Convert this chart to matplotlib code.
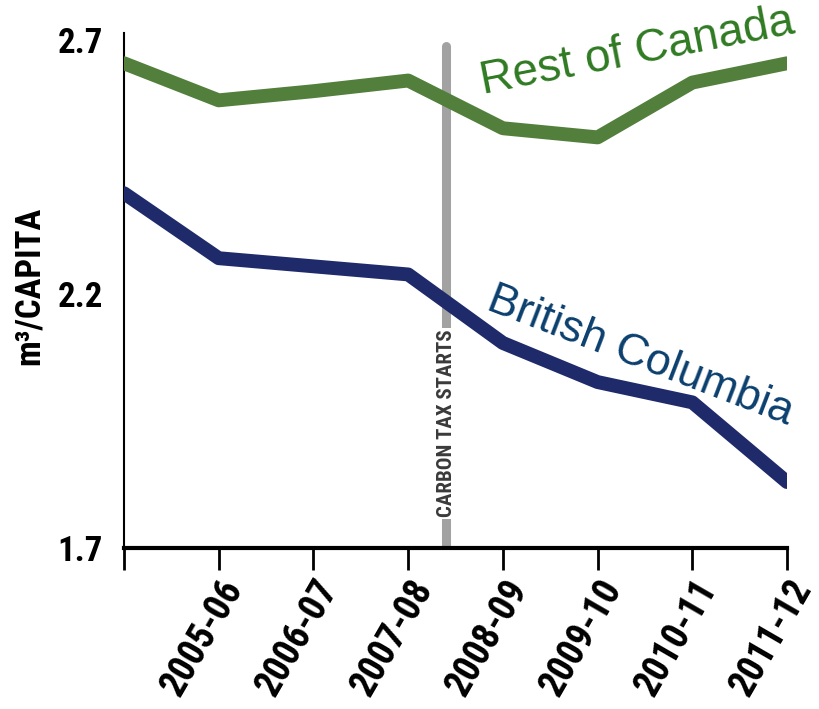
import matplotlib.pyplot as plt
from matplotlib import font_manager

# data
years = ["2004-05", "2005-06", "2006-07", "2007-08", "2008-09", "2009-10", "2010-11", "2011-12"]
rest_of_canada = [2.655, 2.582, 2.600, 2.621, 2.527, 2.509, 2.617, 2.655]
british_columbia = [2.399, 2.271, 2.255, 2.239, 2.104, 2.027, 1.987, 1.830]
tax_start = 3.4

# pick a condensed face if one is installed
names = {f.name for f in font_manager.fontManager.ttflist}
narrow = "DejaVu Sans"
scale = 0.8
for cand in ["Roboto Condensed", "Noto Sans Condensed", "Open Sans Condensed",
             "DejaVu Sans Condensed", "Liberation Sans Narrow"]:
    if cand in names:
        narrow = cand
        scale = 1.0
        break

fig = plt.figure(figsize=(8.19, 7.09), dpi=100)
ax = fig.add_axes([0.1514, 0.227, 0.8096, 0.726])

x = list(range(len(years)))

# carbon tax line
ax.plot([tax_start, tax_start], [1.7, 2.69], color="#a2a2a2", lw=6.5, solid_capstyle="round", zorder=1)
ax.text(tax_start, 1.945, "CARBON TAX STARTS", rotation=90, ha="center", va="center",
        fontsize=15 * scale, family=narrow, fontweight="bold", color="#3a3a3a",
        bbox=dict(facecolor="white", edgecolor="none", pad=1), zorder=2)

ax.plot(x, rest_of_canada, color="#527f3c", lw=10, solid_capstyle="round", solid_joinstyle="round", zorder=3)
ax.plot(x, british_columbia, color="#1e2a6a", lw=10, solid_capstyle="round", solid_joinstyle="round", zorder=3)

ax.text(5.42, 2.678, "Rest of Canada", rotation=11, ha="center", va="center",
        fontsize=33, family="Liberation Sans", color="#2f7a22")
ax.text(5.45, 2.078, "British Columbia", rotation=-21, ha="center", va="center",
        fontsize=32, family="Liberation Sans", color="#0b3f6e")

ax.set_xlim(0, 7)
ax.set_ylim(1.7, 2.714)
ax.set_yticks([1.7, 2.2, 2.7])
ax.set_yticklabels(["1.7", "2.2", "2.7"], fontsize=25 * scale, fontweight="bold", family=narrow)
ax.tick_params(axis="y", length=0, pad=15)

ax.set_xticks(x)
ax.set_xticklabels([""] + years[1:], rotation=60, ha="right", rotation_mode="anchor",
                   fontsize=27 * scale, fontweight="bold", family=narrow)
ax.tick_params(axis="x", length=16, width=2, pad=2)

ax.spines["top"].set_visible(False)
ax.spines["right"].set_visible(False)
ax.spines["left"].set_linewidth(1.5)
ax.spines["bottom"].set_linewidth(3)

ax.set_ylabel("m³/CAPITA", fontsize=25 * scale, fontweight="bold", family=[narrow, "DejaVu Sans"])
ax.yaxis.set_label_coords(-0.118, 0.51)

plt.savefig("out.png", dpi=100)
